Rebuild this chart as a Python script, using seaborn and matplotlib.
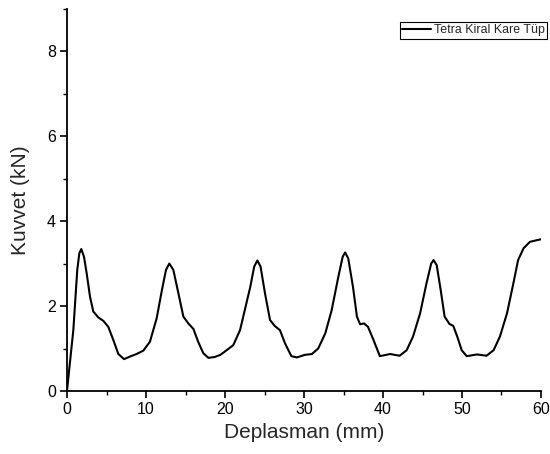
import matplotlib
matplotlib.use("Agg")
import matplotlib.pyplot as plt
import seaborn as sns
import pandas as pd
from matplotlib.ticker import MultipleLocator

deplasman = [0.0, 0.4, 0.8, 1.3, 1.56, 1.81, 2.15, 2.49, 2.91, 3.33, 3.97, 4.6, 5.23, 5.86,
             6.5, 7.22, 7.97, 8.8, 9.66, 10.5, 11.35, 11.98, 12.53, 12.95, 13.46, 14.1,
             14.73, 15.36, 16.0, 16.6, 17.25, 17.9, 18.7, 19.4, 20.0, 21.05, 21.9, 22.5,
             23.2, 23.7, 24.1, 24.5, 25.06, 25.7, 26.3, 26.96, 27.6, 28.4, 29.1, 30.1,
             31.0, 31.8, 32.7, 33.5, 34.35, 34.9, 35.2, 35.6, 36.2, 36.7, 37.1, 37.6,
             38.1, 38.8, 39.6, 40.9, 42.1, 43.0, 43.8, 44.7, 45.5, 46.1, 46.4, 46.8,
             47.3, 47.8, 48.4, 48.9, 49.4, 49.96, 50.6, 51.9, 53.1, 54.0, 54.8, 55.7,
             56.5, 57.1, 57.8, 58.6, 59.5, 60.0]
kuvvet = [0.0, 0.72, 1.43, 2.85, 3.24, 3.34, 3.16, 2.77, 2.22, 1.87, 1.73, 1.65, 1.51, 1.2,
          0.87, 0.75, 0.81, 0.87, 0.95, 1.16, 1.71, 2.34, 2.85, 3.0, 2.85, 2.3,
          1.75, 1.59, 1.46, 1.16, 0.89, 0.78, 0.8, 0.85, 0.93, 1.08, 1.43, 1.9,
          2.45, 2.93, 3.07, 2.93, 2.3, 1.67, 1.53, 1.43, 1.12, 0.82, 0.79, 0.85,
          0.87, 1.0, 1.36, 1.9, 2.69, 3.16, 3.26, 3.12, 2.45, 1.75, 1.57, 1.59,
          1.51, 1.2, 0.82, 0.87, 0.83, 0.96, 1.28, 1.83, 2.53, 3.0, 3.08, 2.96,
          2.38, 1.75, 1.58, 1.53, 1.28, 0.96, 0.82, 0.86, 0.83, 0.96, 1.28, 1.83,
          2.53, 3.08, 3.36, 3.51, 3.55, 3.57]
series_label = "Tetra Kiral Kare Tüp"

df = pd.DataFrame({"Deplasman": deplasman, "Kuvvet": kuvvet})

sns.set_style("ticks")
plt.rcParams["font.family"] = ["Liberation Sans", "DejaVu Sans"]

fig = plt.figure(figsize=(5.5, 4.54), dpi=100)
ax = fig.add_axes([67/550, 1-391/454, (541-67)/550, (391-8.5)/454])

sns.lineplot(data=df, x="Deplasman", y="Kuvvet", color="black", linewidth=1.5,
             label=series_label, ax=ax, sort=False)
for ln in ax.get_lines():
    ln.set_solid_joinstyle("round")

ax.set_xlim(0, 60)
ax.set_ylim(0, 9)
ax.xaxis.set_major_locator(MultipleLocator(10))
ax.xaxis.set_minor_locator(MultipleLocator(5))
ax.yaxis.set_minor_locator(MultipleLocator(1))
ax.set_yticks([0, 2, 4, 6, 8])

for s in ["top", "right"]:
    ax.spines[s].set_visible(False)
for s in ["left", "bottom"]:
    ax.spines[s].set_linewidth(1.3)
    ax.spines[s].set_color("black")

ax.tick_params(axis="both", which="major", direction="out", length=5, width=1.2,
               labelsize=11.5, colors="black", pad=3)
ax.tick_params(axis="both", which="minor", direction="out", length=3, width=1.0, colors="black")

ax.set_xlabel("Deplasman (mm)", fontsize=15, labelpad=4)
ax.set_ylabel("Kuvvet (kN)", fontsize=15, labelpad=12)

leg = ax.legend(loc="upper left", bbox_to_anchor=(400/550, 1-22/454),
                bbox_transform=fig.transFigure, fontsize=8.9, frameon=True,
                fancybox=False, shadow=False, borderpad=0.2, handlelength=2.3,
                handletextpad=0.25, borderaxespad=0)
leg.get_frame().set_edgecolor("black")
leg.get_frame().set_linewidth(0.8)
leg.get_frame().set_alpha(1)

fig.savefig("out.png", dpi=100)
